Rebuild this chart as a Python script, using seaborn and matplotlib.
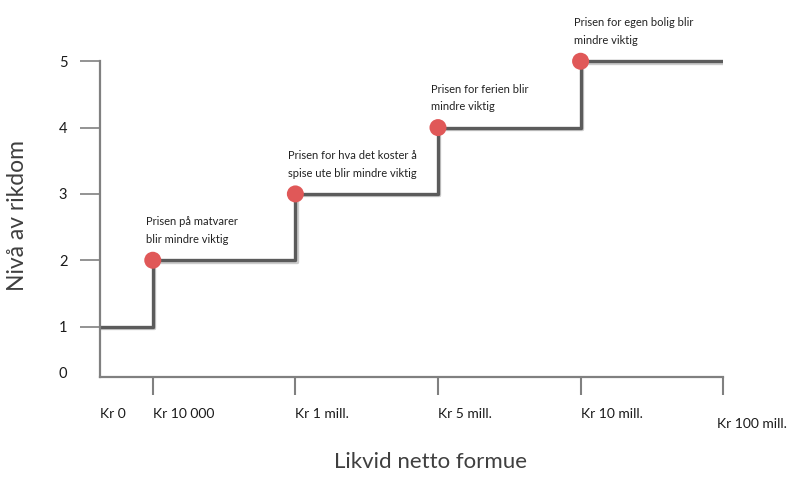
import matplotlib
matplotlib.use('Agg')
import matplotlib.pyplot as plt
import matplotlib.patheffects as pe
import matplotlib.transforms as mtransforms
import pandas as pd
import seaborn as sns

# Posisjoner langs x-aksen (ikke-lineær skala, slik som i originalen)
x_labels = ['Kr 0', 'Kr 10 000', 'Kr 1 mill.', 'Kr 5 mill.', 'Kr 10 mill.', 'Kr 100 mill.']
x_pos = [0, 0.37, 1.37, 2.37, 3.37, 4.37]
niva = [1, 2, 3, 4, 5, 5]

y_ticks = [0.315, 1, 2, 3, 4, 5]
y_labels = ['0', '1', '2', '3', '4', '5']

notater = [
    'Prisen på matvarer\nblir mindre viktig',
    'Prisen for hva det koster å\nspise ute blir mindre viktig',
    'Prisen for ferien blir\nmindre viktig',
    'Prisen for egen bolig blir\nmindre viktig',
]

df = pd.DataFrame({'pos': x_pos, 'niva': niva})
punkter = df.iloc[1:5]

sns.set_style('white')
plt.rcParams['font.family'] = ['Lato', 'DejaVu Sans']

fig = plt.figure(figsize=(8, 4.8), dpi=100)
ax = fig.add_axes([0.125, 0.2146, 0.779, 0.702])

sns.lineplot(data=df, x='pos', y='niva', drawstyle='steps-post', color='#5b5b5b',
             linewidth=2.4, ax=ax,
             path_effects=[pe.SimpleLineShadow(offset=(1.0, -1.0), alpha=0.2), pe.Normal()])
sns.scatterplot(data=punkter, x='pos', y='niva', color='#e05858', s=150,
                edgecolor='none', zorder=5, ax=ax)

for x, y, txt in zip(punkter['pos'], punkter['niva'], notater):
    ax.annotate(txt, (x, y), xytext=(-5, 11), textcoords='offset points',
                ha='left', va='bottom', fontsize=8, linespacing=1.75, color='#222222')

ax.set_xlim(0, 4.37)
ax.set_ylim(0.24, 5.32)

ax.set_xticks(x_pos, x_labels, ha='left')
ax.set_yticks(y_ticks, y_labels)
ax.tick_params(axis='x', length=13, width=1.5, color='#808080', pad=9,
               labelsize=10, labelcolor='#1a1a1a', direction='out', bottom=True)
ax.tick_params(axis='y', length=14.5, width=1.2, color='#808080', pad=9,
               labelsize=10.5, labelcolor='#1a1a1a', direction='out', left=True)
ax.xaxis.get_major_ticks()[0].tick1line.set_visible(False)
ax.yaxis.get_major_ticks()[0].tick1line.set_visible(False)

# "Kr 100 mill." står litt lavere og litt til venstre i originalen
siste = ax.get_xticklabels()[-1]
siste.set_transform(siste.get_transform() +
                    mtransforms.ScaledTranslation(-0.06, -0.10, fig.dpi_scale_trans))

for side in ['top', 'right']:
    ax.spines[side].set_visible(False)
for side in ['left', 'bottom']:
    ax.spines[side].set_color('#808080')
    ax.spines[side].set_linewidth(1.6)
# y-aksen stopper ved nivå 5
ax.spines['left'].set_bounds(0.24, 5)

ax.set_xlabel('Likvid netto formue', fontsize=16, color='#3f3f3f')
ax.set_ylabel('Nivå av rikdom', fontsize=16.5, color='#3f3f3f')
ax.xaxis.set_label_coords(0.531, -0.223)
ax.yaxis.set_label_coords(-0.1156, 0.478)

fig.savefig('out.png', dpi=100)
